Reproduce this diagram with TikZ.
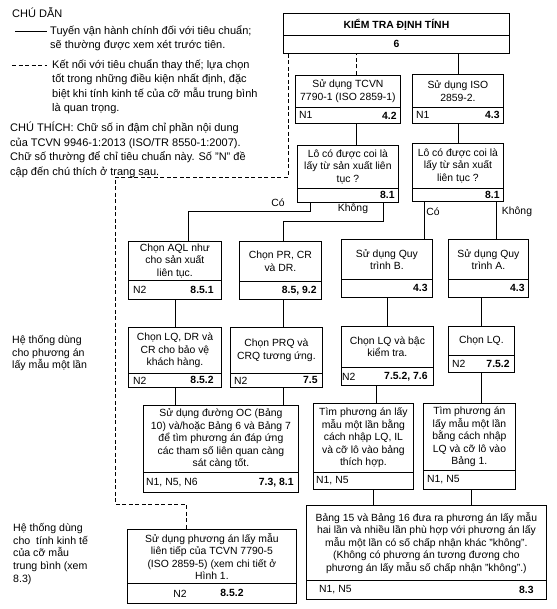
\documentclass[tikz,border=0pt]{standalone}
\usepackage{fontspec}
\setmainfont{Liberation Sans}
\usetikzlibrary{calc}

\begin{document}
\begin{tikzpicture}[x=1pt,y=-1pt,
  every node/.style={font=\fontsize{10.4}{12.5}\selectfont},
  boxtop/.style={draw, line width=0.8pt, anchor=north west, align=center, inner sep=0.5pt},
  boxrow/.style={draw, line width=0.8pt, anchor=north west, inner sep=0pt},
  reftext/.style={anchor=west, inner sep=0pt},
  refnum/.style={anchor=east, inner sep=0pt, font=\fontsize{10.4}{12.5}\selectfont\bfseries},
  mainlink/.style={line width=0.7pt},
  altlink/.style={line width=0.7pt, dash pattern=on 4pt off 2.5pt},
  branchlbl/.style={inner sep=0pt},
  legendtxt/.style={anchor=north west, align=left, inner sep=0pt, font=\fontsize{11}{14.5}\selectfont},
  sidetxt/.style={anchor=north west, align=left, inner sep=0pt, font=\fontsize{10.6}{12.8}\selectfont}]

\useasboundingbox (0,0) rectangle (556,609);

% legend
\node[anchor=north west, inner sep=0pt, font=\fontsize{11}{13}\selectfont] (legtitle) at (12,7) {CHÚ DẪN};
\coordinate (solidA) at (15,31);
\coordinate (solidB) at (47,31);
\draw[line width=0.8pt] (solidA) -- (solidB);
\node[legendtxt] (legmain) at (50,25)
  {Tuyến vận hành chính đối với tiêu chuẩn;\\sẽ thường được xem xét trước tiên.};
\coordinate (dashA) at (12,65);
\coordinate (dashB) at (47,65);
\draw[altlink] (dashA) -- (dashB);
\node[legendtxt] (legalt) at (52,59)
  {Kết nối với tiêu chuẩn thay thế; lựa chọn\\tốt trong những điều kiện nhất định, đặc\\biệt khi tính kinh tế của cỡ mẫu trung bình\\là quan trọng.};
\node[legendtxt] (legnote) at (10,122)
  {CHÚ THÍCH: Chữ số in đậm chỉ phần nội dung\\của TCVN 9946-1:2013 (ISO/TR 8550-1:2007).\\Chữ số thường để chỉ tiêu chuẩn này. Số "N" đề\\cập đến chú thích ở trang sau.};

% side labels
\node[sidetxt] (sidesingle) at (12,335) {Hệ thống dùng\\cho phương án\\lấy mẫu một lần};
\node[sidetxt] (sidemid) at (13,523) {Hệ thống dùng\\cho~ tính kinh tế\\của cỡ mẫu\\trung bình (xem\\8.3)};

% top
\node[boxtop, minimum width=226pt, minimum height=22pt] (t) at (283,13) {\textbf{KIỂM TRA ĐỊNH TÍNH}};
\node[boxrow, minimum width=226pt, minimum height=18pt] (trow) at (283,35) {\textbf{6}};

% standards
\node[boxtop, minimum width=105pt, minimum height=32pt] (tcvn) at (295,75) {Sử dụng TCVN\\7790-1 (ISO 2859-1)};
\node[boxrow, minimum width=105pt, minimum height=16pt] (tcvnrow) at (295,107) {};
\node[reftext] (tcvnn) at ([xshift=4pt]tcvnrow.west) {N1};
\node[refnum] (tcvns) at ([xshift=-4pt]tcvnrow.east) {4.2};

\node[boxtop, minimum width=91pt, minimum height=33pt] (iso) at (412,74) {Sử dụng ISO\\2859-2.};
\node[boxrow, minimum width=91pt, minimum height=16pt] (isorow) at (412,107) {};
\node[reftext] (ison) at ([xshift=4pt]isorow.west) {N1};
\node[refnum] (isos) at ([xshift=-4pt]isorow.east) {4.3};

% questions
\node[boxtop, minimum width=101pt, minimum height=43pt] (qL) at (297,145) {Lô có được coi là\\lấy từ sản xuất liên\\tục ?};
\node[boxrow, minimum width=101pt, minimum height=14pt] (qLrow) at (297,188) {};
\node[refnum] (qLs) at ([xshift=-4pt]qLrow.east) {8.1};

\node[boxtop, minimum width=91pt, minimum height=45pt] (qR) at (412,143) {Lô có được coi là\\lấy từ sản xuất\\liên tục ?};
\node[boxrow, minimum width=91pt, minimum height=13pt] (qRrow) at (412,188) {};
\node[refnum] (qRs) at ([xshift=-4pt]qRrow.east) {8.1};

% third row
\node[boxtop, minimum width=93pt, minimum height=39pt] (aql) at (128,241) {Chọn AQL như\\cho sản xuất\\liên tục.};
\node[boxrow, minimum width=93pt, minimum height=19pt] (aqlrow) at (128,280) {};
\node[reftext] (aqln) at ([xshift=5pt]aqlrow.west) {N2};
\node[refnum] (aqls) at ([xshift=-8pt]aqlrow.east) {8.5.1};

\node[boxtop, minimum width=82pt, minimum height=40pt] (pr) at (239,241) {Chọn PR, CR\\và DR.};
\node[boxrow, minimum width=82pt, minimum height=18pt] (prrow) at (239,281) {};
\node[refnum] (prs) at ([xshift=-5pt]prrow.east) {8.5, 9.2};

\node[boxtop, minimum width=91pt, minimum height=40pt] (pb) at (341,239) {Sử dụng Quy\\trình B.};
\node[boxrow, minimum width=91pt, minimum height=18pt] (pbrow) at (341,279) {};
\node[refnum] (pbs) at ([xshift=-5pt]pbrow.east) {4.3};

\node[boxtop, minimum width=80pt, minimum height=40pt] (pa) at (448,239) {Sử dụng Quy\\trình A.};
\node[boxrow, minimum width=80pt, minimum height=18pt] (parow) at (448,279) {};
\node[refnum] (pas) at ([xshift=-4pt]parow.east) {4.3};

% fourth row
\node[boxtop, minimum width=93pt, minimum height=46pt] (lqdr) at (128,327) {Chọn LQ, DR và\\CR cho bảo vệ\\khách hàng.};
\node[boxrow, minimum width=93pt, minimum height=14pt] (lqdrrow) at (128,373) {};
\node[reftext] (lqdrn) at ([xshift=5pt]lqdrrow.west) {N2};
\node[refnum] (lqdrs) at ([xshift=-8pt]lqdrrow.east) {8.5.2};

\node[boxtop, minimum width=92pt, minimum height=46pt] (prq) at (230,327) {Chọn PRQ và\\CRQ tương ứng.};
\node[boxrow, minimum width=92pt, minimum height=14pt] (prqrow) at (230,373) {};
\node[reftext] (prqn) at ([xshift=4pt]prqrow.west) {N2};
\node[refnum] (prqs) at ([xshift=-5pt]prqrow.east) {7.5};

\node[boxtop, minimum width=92pt, minimum height=41pt] (lqbac) at (341,326) {Chọn LQ và bậc\\kiểm tra.};
\node[boxrow, minimum width=92pt, minimum height=18pt] (lqbacrow) at (341,367) {};
\node[reftext] (lqbacn) at ([xshift=1pt]lqbacrow.west) {N2};
\node[refnum] (lqbacs) at ([xshift=-6pt]lqbacrow.east) {7.5.2, 7.6};

\node[boxtop, minimum width=66pt, minimum height=29pt] (lq) at (448,326) {Chọn LQ.};
\node[boxrow, minimum width=66pt, minimum height=17pt] (lqrow) at (448,355) {};
\node[reftext] (lqn) at ([xshift=4pt]lqrow.west) {N2};
\node[refnum] (lqs) at ([xshift=-5pt]lqrow.east) {7.5.2};

% fifth row
\node[boxtop, minimum width=155pt, minimum height=67pt] (oc) at (143,405) {Sử dụng đường OC (Bảng\\10) và/hoặc Bảng 6 và Bảng 7\\để tìm phương án đáp ứng\\các tham số liên quan càng\\sát càng tốt.};
\node[boxrow, minimum width=155pt, minimum height=20pt] (ocrow) at (143,472) {};
\node[reftext] (ocn) at ([xshift=3pt]ocrow.west) {N1, N5, N6};
\node[refnum] (ocs) at ([xshift=-5pt]ocrow.east) {7.3, 8.1};

\node[boxtop, minimum width=100pt, minimum height=69pt] (tim1) at (313,403) {Tìm phương án lấy\\mẫu một lần bằng\\cách nhập LQ, IL\\và cỡ lô vào bảng\\thích hợp.};
\node[boxrow, minimum width=100pt, minimum height=17pt] (tim1row) at (313,472) {};
\node[reftext] (tim1n) at ([xshift=3pt]tim1row.west) {N1, N5};

\node[boxtop, minimum width=92pt, minimum height=67pt] (tim2) at (423,403) {Tìm phương án\\lấy mẫu một lần\\bằng cách nhập\\LQ và cỡ lô vào\\Bảng 1.};
\node[boxrow, minimum width=92pt, minimum height=19pt] (tim2row) at (423,470) {};
\node[reftext] (tim2n) at ([xshift=4pt]tim2row.west) {N1, N5};

% bottom row
\node[boxtop, minimum width=169pt, minimum height=54pt] (seq) at (127,529) {Sử dụng phương án lấy mẫu\\liên tiếp của TCVN 7790-5\\(ISO 2859-5) (xem chi tiết ở\\Hình 1.};
\node[boxrow, minimum width=169pt, minimum height=20pt] (seqrow) at (127,583) {};
\node[inner sep=0pt] (seqn) at ([xshift=53pt]seqrow.west) {N2};
\node[inner sep=0pt, font=\fontsize{10.4}{12.5}\selectfont\bfseries] (seqs) at ([xshift=105pt]seqrow.west) {8.5.2};

\node[boxtop, minimum width=240pt, minimum height=75pt] (bang) at (306,505) {Bảng 15 và Bảng 16 đưa ra phương án lấy mẫu\\hai lần và nhiều lần phù hợp với phương án lấy\\mẫu một lần có số chấp nhận khác "không".\\(Không có phương án tương đương cho\\phương án lấy mẫu số chấp nhận "không".)};
\node[boxrow, minimum width=240pt, minimum height=19pt] (bangrow) at (306,580) {};
\node[reftext] (bangn) at ([xshift=13pt]bangrow.west) {N1, N5};
\node[refnum] (bangs) at ([xshift=-13pt]bangrow.east) {8.3};

% connectors
\draw[mainlink] (iso.north) -- (iso.north |- trow.south);
\draw[altlink] ([xshift=8pt]tcvn.north) -- ([xshift=8pt]tcvn.north |- trow.south);
\draw[mainlink] ([xshift=8pt]tcvnrow.south) -- ([xshift=8pt]tcvnrow.south |- qL.north);
\draw[mainlink] (isorow.south) -- (isorow.south |- qR.north);

\draw[mainlink] ([xshift=-38pt]qLrow.south) -- ++(0,9) -| ([xshift=13pt]aql.north);
\draw[mainlink] ([xshift=35pt]qLrow.south) -- ++(0,19) -| ([xshift=3pt]pr.north);
\draw[mainlink] ([xshift=-34pt]qRrow.south) -- ([xshift=-34pt]qRrow.south |- pb.north);
\draw[mainlink] ([xshift=38pt]qRrow.south) -- ([xshift=38pt]qRrow.south |- pa.north);
\node[branchlbl] (coL) at (278,203) {Có};
\node[branchlbl] (khongL) at (353,209) {Không};
\node[branchlbl] (coR) at (433,212) {Có};
\node[branchlbl] (khongR) at (517,212) {Không};

\draw[mainlink] (aqlrow.south) -- (aqlrow.south |- lqdr.north);
\draw[mainlink] ([xshift=3pt]prrow.south) -- ([xshift=3pt]prrow.south |- prq.north);
\draw[mainlink] (pbrow.south) -- (pbrow.south |- lqbac.north);
\draw[mainlink] (lq.north) -- (lq.north |- parow.south);

\draw[mainlink] (lqdrrow.south) -- (lqdrrow.south |- oc.north);
\draw[mainlink] ([xshift=7pt]prqrow.south) -- ([xshift=7pt]prqrow.south |- oc.north);
\draw[mainlink] ([xshift=-11pt]lqbacrow.south) -- ([xshift=-11pt]lqbacrow.south |- tim1.north);
\draw[mainlink] (lqrow.south) -- (lqrow.south |- tim2.north);

\draw[mainlink] ([xshift=10pt]tim1row.south) -- ([xshift=10pt]tim1row.south |- bang.north);
\draw[mainlink] ([xshift=2pt]tim2row.south) -- ([xshift=2pt]tim2row.south |- bang.north);

% alternative route
\coordinate (altA) at (115,177);
\coordinate (altB) at (115,504);
\draw[altlink] ([xshift=5pt]trow.south west) |- (altA) -- (altB) -| ([xshift=-26pt]seq.north);
\end{tikzpicture}
\end{document}
